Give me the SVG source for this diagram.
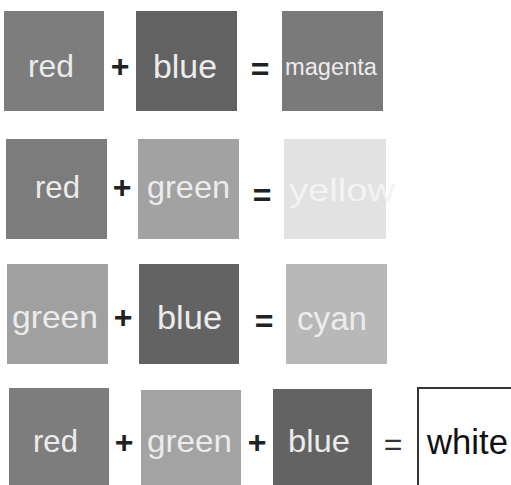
<svg xmlns="http://www.w3.org/2000/svg" width="511" height="485" viewBox="0 0 511 485">
<style>
.lbl{font-family:"Liberation Sans",Arial,sans-serif;fill:#ececec}
.op{font-family:"Liberation Sans",Arial,sans-serif;fill:#222;font-size:32px;text-anchor:middle}
.dark{fill:#111;font-family:"Liberation Sans",Arial,sans-serif}
</style>
<rect width="511" height="485" fill="#ffffff"/>
<g id="row1">
  <g id="r1-red"><rect x="4" y="11" width="100" height="100" fill="#7d7d7d"/><text class="lbl" x="28" y="77" font-size="32" textLength="46" lengthAdjust="spacingAndGlyphs">red</text></g>
  <g id="r1-plus"><text class="op" x="120" y="77" font-weight="bold">+</text></g>
  <g id="r1-blue"><rect x="136" y="11" width="101" height="100" fill="#626262"/><text class="lbl" x="153" y="78" font-size="33" textLength="64" lengthAdjust="spacingAndGlyphs">blue</text></g>
  <g id="r1-eq"><text class="op" x="260" y="80" font-weight="bold">=</text></g>
  <g id="r1-magenta"><rect x="282" y="11" width="101" height="100" fill="#7a7a7a"/><text class="lbl" x="285" y="75" font-size="23" textLength="92" lengthAdjust="spacingAndGlyphs">magenta</text></g>
</g>
<g id="row2">
  <g id="r2-red"><rect x="6" y="139" width="101" height="100" fill="#7c7c7c"/><text class="lbl" x="35" y="198" font-size="32" textLength="45" lengthAdjust="spacingAndGlyphs">red</text></g>
  <g id="r2-plus"><text class="op" x="122" y="198" font-weight="bold">+</text></g>
  <g id="r2-green"><rect x="138" y="139" width="101" height="100" fill="#a2a2a2"/><text class="lbl" x="147" y="198" font-size="32" textLength="83" lengthAdjust="spacingAndGlyphs">green</text></g>
  <g id="r2-eq"><text class="op" x="262" y="206" font-weight="bold">=</text></g>
  <g id="r2-yellow"><rect x="284" y="139" width="102" height="100" fill="#e2e2e2"/><text class="lbl" x="289" y="201" font-size="32" textLength="106" lengthAdjust="spacingAndGlyphs" style="fill:#f3f3f3">yellow</text></g>
</g>
<g id="row3">
  <g id="r3-green"><rect x="7" y="264" width="101" height="100" fill="#a0a0a0"/><text class="lbl" x="12" y="328" font-size="32" textLength="86" lengthAdjust="spacingAndGlyphs">green</text></g>
  <g id="r3-plus"><text class="op" x="123" y="328" font-weight="bold">+</text></g>
  <g id="r3-blue"><rect x="139" y="264" width="100" height="100" fill="#636363"/><text class="lbl" x="157" y="329" font-size="33" textLength="65" lengthAdjust="spacingAndGlyphs">blue</text></g>
  <g id="r3-eq"><text class="op" x="264" y="332" font-weight="bold">=</text></g>
  <g id="r3-cyan"><rect x="286" y="264" width="101" height="100" fill="#b8b8b8"/><text class="lbl" x="297" y="330" font-size="33" textLength="70" lengthAdjust="spacingAndGlyphs">cyan</text></g>
</g>
<g id="row4">
  <g id="r4-red"><rect x="9" y="388" width="100" height="97" fill="#7d7d7d"/><text class="lbl" x="33" y="452" font-size="32" textLength="45" lengthAdjust="spacingAndGlyphs">red</text></g>
  <g id="r4-plus1"><text class="op" x="124" y="453" font-weight="bold">+</text></g>
  <g id="r4-green"><rect x="141" y="390" width="100" height="95" fill="#a3a3a3"/><text class="lbl" x="147" y="452" font-size="32" textLength="85" lengthAdjust="spacingAndGlyphs">green</text></g>
  <g id="r4-plus2"><text class="op" x="257" y="453" font-weight="bold">+</text></g>
  <g id="r4-blue"><rect x="273" y="389" width="99" height="96" fill="#636363"/><text class="lbl" x="288" y="452" font-size="32" textLength="62" lengthAdjust="spacingAndGlyphs">blue</text></g>
  <g id="r4-eq"><text class="op" x="393" y="455" style="fill:#333">=</text></g>
  <g id="r4-white"><rect x="418" y="388" width="100" height="105" fill="#ffffff" stroke="#333" stroke-width="2"/><text class="dark" x="427" y="454" font-size="35" textLength="81" lengthAdjust="spacingAndGlyphs">white</text></g>
</g>
<g id="connectors"></g>
</svg>
